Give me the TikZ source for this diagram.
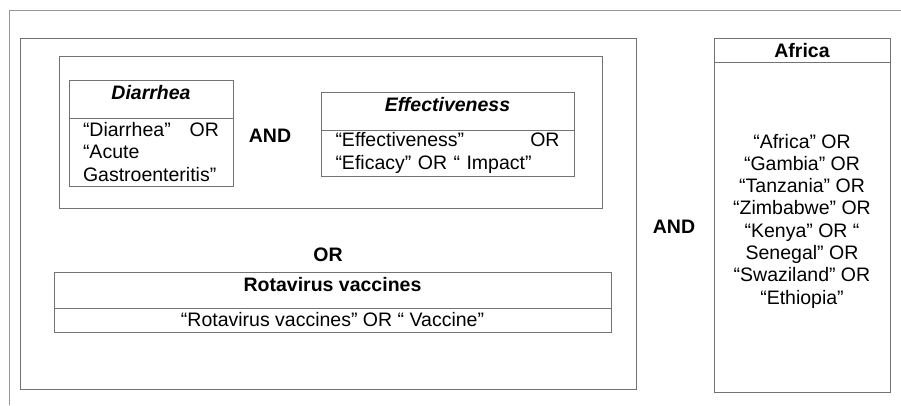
\documentclass[tikz,border=0pt]{standalone}
\usepackage{fontspec}
\setmainfont{Liberation Sans}
\usepackage{xcolor}
\usetikzlibrary{positioning}
\definecolor{linegray}{RGB}{115,115,115}
\definecolor{framegray}{RGB}{150,150,150}
\newcommand{\diagfont}{\fontsize{19.5}{22.3}\selectfont}

\begin{document}
\begin{tikzpicture}[
  x=1pt, y=-1pt,
  font=\diagfont,
  grp/.style={draw=linegray, line width=0.9pt, anchor=north west, inner sep=0pt, outer sep=0pt},
  head/.style={draw=linegray, line width=0.9pt, anchor=north west, inner sep=0pt, outer sep=0pt, font=\diagfont\bfseries, text height=14pt, text depth=14pt},
  qry/.style={draw=linegray, line width=0.9pt, inner sep=0pt, outer sep=0pt},
  op/.style={font=\diagfont\bfseries},
]
\useasboundingbox (0,0) rectangle (901,405);
% page frame
\draw[framegray, line width=0.9pt] (9,405) -- (9,10) -- (901,10);
% groups
\node[grp, minimum width=616pt, minimum height=351pt] (outer) at (20,38) {};
\node[grp, minimum width=543pt, minimum height=152pt] (andgrp) at (59,56) {};
% diarrhea
\node[head, font=\diagfont\bfseries\itshape, minimum width=164pt, minimum height=38pt] (dia) at (69,80) {Diarrhea};
\node[qry, below=0pt of dia, minimum width=164pt, minimum height=68pt, text width=136pt, align=left] (diaq) {“Diarrhea”\hfill OR\\“Acute\\Gastroenteritis”};
% effectiveness
\node[head, font=\diagfont\bfseries\itshape, minimum width=253pt, minimum height=38pt] (eff) at (321,92) {Effectiveness};
\node[qry, below=0pt of eff, minimum width=253pt, minimum height=46pt, text width=224pt, align=left] (effq) {“Effectiveness”\hfill OR\\“Eficacy” OR “ Impact”};
% rotavirus
\node[head, minimum width=557pt, minimum height=36pt, text depth=12pt] (rota) at (54,272) {Rotavirus vaccines};
\node[qry, below=0pt of rota, minimum width=557pt, minimum height=24pt] (rotaq) {“Rotavirus vaccines” OR “ Vaccine”};
% africa
\node[head, minimum width=176pt, minimum height=24pt, text depth=0pt] (afr) at (714,38) {Africa};
\node[qry, below=0pt of afr, minimum width=176pt, minimum height=330pt, align=center, text depth=16pt] (afrq) {“Africa” OR\\“Gambia” OR\\“Tanzania” OR\\“Zimbabwe” OR\\“Kenya” OR “\\Senegal” OR\\“Swaziland” OR\\“Ethiopia”};
% operators
\node[op] (and1) at (270,136) {AND};
\node[op] (or1) at (328,255) {OR};
\node[op] (and2) at (674,227) {AND};
\end{tikzpicture}
\end{document}
